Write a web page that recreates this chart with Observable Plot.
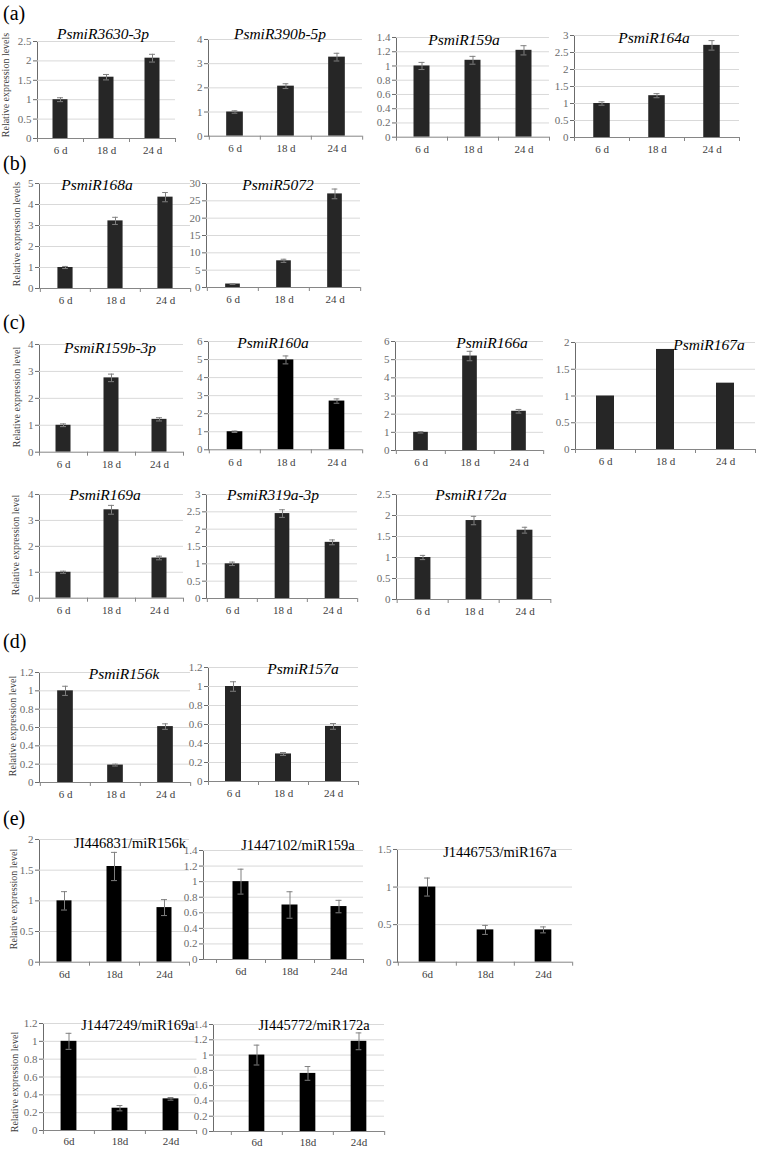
<!DOCTYPE html>
<html><head><meta charset="utf-8">
<script src="https://cdn.jsdelivr.net/npm/d3@7"></script>
<script src="https://cdn.jsdelivr.net/npm/@observablehq/plot@0.6"></script>
<style>
body{margin:0;background:#fff;}
#page{position:relative;width:759px;height:1149px;overflow:hidden;font-family:"Liberation Serif","Times New Roman",serif;background:#fff;}
.lbl{position:absolute;font-size:20px;color:#000;line-height:1;}
.ttl{position:absolute;white-space:nowrap;line-height:1;transform:translate(-50%,-50%);color:#000;}
.ylab{position:absolute;white-space:nowrap;font-size:10px;color:#404040;transform:translate(-50%,-50%) rotate(-90deg);line-height:1;}
.chart{position:absolute;}
</style></head><body><div id="page"></div>
<script>
// ---------- data ----------
const days = ["6 d", "18 d", "24 d"];
const daysE = ["6d", "18d", "24d"];
const panelLetters = ["(a)", "(b)", "(c)", "(d)", "(e)"];
const names = ["PsmiR3630-3p","PsmiR390b-5p","PsmiR159a","PsmiR164a","PsmiR168a","PsmiR5072",
  "PsmiR159b-3p","PsmiR160a","PsmiR166a","PsmiR167a","PsmiR169a","PsmiR319a-3p","PsmiR172a",
  "PsmiR156k","PsmiR157a","JI446831/miR156k","J1447102/miR159a","J1446753/miR167a","J1447249/miR169a","JI445772/miR172a"];
const panelOf = ["a","a","a","a","b","b","c","c","c","c","c","c","c","d","d","e","e","e","e","e"];
const values = [
  [1.0,1.58,2.07],[1.0,2.07,3.27],[1.0,1.08,1.22],[1.0,1.23,2.71],
  [1.0,3.22,4.35],[1.0,7.7,27.0],
  [1.0,2.76,1.22],[1.0,4.98,2.7],[1.0,5.2,2.16],[1.0,1.87,1.24],
  [1.0,3.41,1.55],[1.0,2.45,1.62],[1.0,1.88,1.65],
  [1.0,0.19,0.61],[1.0,0.29,0.58],
  [1.0,1.56,0.89],[1.0,0.70,0.68],[1.0,0.43,0.43],
  [1.0,0.25,0.355],[1.0,0.76,1.18]
];
const errors = [
  [0.05,0.07,0.1],[0.05,0.1,0.16],[0.05,0.055,0.065],[0.05,0.06,0.14],
  [0.05,0.17,0.22],[0.1,0.45,1.4],
  [0.05,0.14,0.06],[0.04,0.22,0.12],[0.04,0.26,0.1],null,
  [0.04,0.17,0.07],[0.05,0.11,0.07],[0.05,0.1,0.07],
  [0.05,0.01,0.03],[0.05,0.015,0.03],
  [0.15,0.23,0.13],[0.16,0.17,0.08],[0.12,0.06,0.04],
  [0.09,0.03,0.015],[0.13,0.09,0.11]
];
const yTicks = [
  [0,0.5,1,1.5,2,2.5],[0,1,2,3,4],[0,0.2,0.4,0.6,0.8,1,1.2,1.4],[0,0.5,1,1.5,2,2.5,3],
  [0,1,2,3,4,5],[0,5,10,15,20,25,30],
  [0,1,2,3,4],[0,1,2,3,4,5,6],[0,1,2,3,4,5,6],[0,0.5,1,1.5,2],
  [0,1,2,3,4],[0,0.5,1,1.5,2,2.5,3],[0,0.5,1,1.5,2,2.5],
  [0,0.2,0.4,0.6,0.8,1,1.2],[0,0.2,0.4,0.6,0.8,1,1.2],
  [0,0.5,1,1.5,2],[0,0.2,0.4,0.6,0.8,1,1.2,1.4],[0,0.5,1,1.5],
  [0,0.2,0.4,0.6,0.8,1,1.2],[0,0.2,0.4,0.6,0.8,1,1.2,1.4]
];
const yLabels = {a: "Relative expression levels", b: "Relative expression levels", c: "Relative expression level", d: "Relative expression level", e: "Relative expression level"};

// ---------- layout (page pixels) ----------
// L/R: frame left/right, T: top tick y, Z: zero y, b0/b1: category band extent, bw: bar width, tx/ty: title centre
const layout = [
  {L:37,R:175,T:40.7,Z:137.7,bw:15,tx:103,ty:34},
  {L:208,R:362,T:39.3,Z:136,bw:17,tx:280,ty:34},
  {L:396,R:549,T:37.3,Z:137,bw:16,tx:464,ty:40},
  {L:574,R:739,T:35,Z:137,bw:16.5,tx:654,ty:38},
  {L:39,R:190,T:182.7,Z:287.7,bw:15.5,tx:97,ty:185},
  {L:206,R:360,T:183,Z:287,bw:15,tx:278,ty:185},
  {L:39,R:183,T:344,Z:451.7,bw:15,tx:110,ty:348},
  {L:208,R:362,T:340.7,Z:449,bw:16,tx:273,ty:343},
  {L:395,R:543,T:341,Z:450,bw:15,tx:492,ty:343},
  {L:575,R:755,T:342,Z:449,bw:18,tx:709,ty:345},
  {L:39,R:183,T:494,Z:597.7,bw:15,tx:105,ty:495},
  {L:206,R:357,T:494,Z:598,bw:15,tx:273,ty:495},
  {L:396,R:551,T:494,Z:599,bw:16.5,tx:471,ty:495},
  {L:39,R:190,T:671.7,Z:781.7,bw:16,tx:124,ty:674},
  {L:208,R:358,T:667,Z:781,bw:16,tx:303,ty:669},
  {L:39,R:189,T:839,Z:961.7,bw:15,tx:130,ty:843},
  {L:203,R:363,b0:216,b1:363,T:850,Z:959,bw:16,tx:298,ty:845},
  {L:397,R:572,T:849,Z:961.7,bw:17,tx:500,ty:852},
  {L:43,R:196.5,T:1023,Z:1130,bw:16,tx:138,ty:1025},
  {L:213,R:384,b0:230,b1:384,T:1024,Z:1131,bw:16,tx:314,ty:1025}
];
const letterPos = {a:[3,3], b:[3,153], c:[3,312], d:[3,631], e:[3,808]};
const yLabelPos = [[0,6,85],[4,17,234],[6,17,397],[10,16,545],[13,13,726],[15,14,899],[18,15,1082]];

const page = document.getElementById("page");
const FONT = '"Liberation Serif","Times New Roman",serif';

function makeChart(i) {
  const lay = layout[i];
  const isE = panelOf[i] === "e";
  const cats = isE ? daysE : days;
  const mL = 40, mR = 6, mT = 8, mB = 22;
  const W = (lay.R - lay.L) + mL + mR;
  const H = (lay.Z - lay.T) + mT + mB;
  const ox = lay.L - mL, oy = lay.T - mT;
  const b0 = (lay.b0 ?? lay.L) - ox, b1 = (lay.b1 ?? lay.R) - ox;
  const s = (b1 - b0) / 3;
  const rows = cats.map((d, j) => ({day: d, v: values[i][j], e: errors[i] ? errors[i][j] : 0}));
  const ticks = yTicks[i];
  const ymax = ticks[ticks.length - 1];
  const inset = (s - lay.bw) / 2;
  const capInset = (s - 6) / 2;
  const fill = (isE || i === 7) ? "#000" : "#262626";
  const marks = [
    Plot.gridY(ticks.slice(1), {stroke: "#d9d9d9", strokeOpacity: 1}),
    Plot.barY(rows, {x: "day", y: "v", fill, insetLeft: inset, insetRight: inset})
  ];
  if (errors[i]) {
    marks.push(
      Plot.ruleX(rows, {x: "day", y1: d => d.v - d.e, y2: d => d.v + d.e, stroke: "#808080", strokeWidth: 1}),
      Plot.tickY(rows, {x: "day", y: d => d.v - d.e, stroke: "#808080", insetLeft: capInset, insetRight: capInset}),
      Plot.tickY(rows, {x: "day", y: d => d.v + d.e, stroke: "#808080", insetLeft: capInset, insetRight: capInset})
    );
  }
  marks.push(
    Plot.ruleY([0], {stroke: "#868686"}),
    Plot.axisX({tickSize: 4, fill: "none", stroke: "#868686", dx: -s / 2, label: null}),
    Plot.axisX([cats[2]], {tickSize: 4, fill: "none", stroke: "#868686", dx: s / 2, label: null}),
    Plot.axisX({tickSize: 0, tickPadding: i >= 18 ? 6.5 : 8, fill: "#404040", fontSize: 11, label: null})
  );
  const svg = Plot.plot({
    width: W, height: H,
    marginLeft: mL, marginRight: mR, marginTop: mT, marginBottom: mB,
    x: {type: "band", domain: cats, range: [b0, b1], padding: 0, label: null},
    y: {domain: [0, ymax], ticks, tickSize: 4, tickPadding: 2, line: true, label: null,
        tickFormat: d => String(d)},
    style: {fontFamily: FONT, fontSize: "11px", color: "#6b6b6b", background: "transparent", overflow: "visible"},
    marks
  });
  svg.classList.add("chart");
  svg.style.left = ox + "px";
  svg.style.top = oy + "px";
  page.appendChild(svg);

  const t = document.createElement("div");
  t.className = "ttl";
  t.textContent = names[i];
  t.style.left = lay.tx + "px";
  t.style.top = lay.ty + "px";
  t.style.fontSize = isE ? "14.5px" : "15.5px";
  t.style.fontStyle = isE ? "normal" : "italic";
  page.appendChild(t);
}

for (let i = 0; i < names.length; i++) makeChart(i);

for (const [k, p] of Object.entries(letterPos)) {
  const el = document.createElement("div");
  el.className = "lbl";
  el.textContent = panelLetters["abcde".indexOf(k)];
  el.style.left = p[0] + "px";
  el.style.top = p[1] + "px";
  page.appendChild(el);
}
for (const [ci, x, y] of yLabelPos) {
  const el = document.createElement("div");
  el.className = "ylab";
  el.textContent = yLabels[panelOf[ci]];
  el.style.left = x + "px";
  el.style.top = y + "px";
  page.appendChild(el);
}
</script>
</body></html>
